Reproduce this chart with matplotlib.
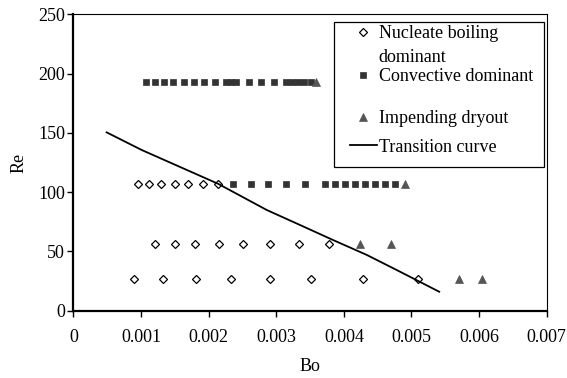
import matplotlib
matplotlib.use("Agg")
import matplotlib.pyplot as plt
from matplotlib.lines import Line2D
from matplotlib.patches import Rectangle

plt.rcParams['font.family'] = ['Liberation Serif', 'DejaVu Serif']
plt.rcParams['font.size'] = 13

# ---- data ----
nuc_bo = [0.00095, 0.00112, 0.00130, 0.00150, 0.00169, 0.00191, 0.00214,
          0.00121, 0.00150, 0.00180, 0.00215, 0.00251, 0.00291, 0.00334, 0.00378,
          0.00090, 0.00132, 0.00181, 0.00233, 0.00290, 0.00352, 0.00428, 0.00510]
nuc_re = [107] * 7 + [56.3] * 8 + [26.5] * 8

conv_bo = [0.00108, 0.00121, 0.00134, 0.00147, 0.00163, 0.00179, 0.00193, 0.00210,
           0.00226, 0.00233, 0.00240, 0.00260, 0.00277, 0.00296, 0.00314, 0.00323,
           0.00332, 0.00341, 0.00351,
           0.00236, 0.00262, 0.00288, 0.00314, 0.00343, 0.00372, 0.00387, 0.00402,
           0.00416, 0.00431, 0.00446, 0.00461, 0.00476]
conv_re = [192.5] * 19 + [107] * 13

dry_bo = [0.00359, 0.00490, 0.00424, 0.00469, 0.00571, 0.00604]
dry_re = [192.5, 107, 56.3, 56.3, 26.5, 26.5]

curve_bo = [0.00049, 0.00101, 0.00214, 0.00286, 0.00335, 0.00384, 0.00434, 0.00483, 0.00541]
curve_re = [150.4, 135.5, 107.0, 84.9, 72.3, 59.6, 47.0, 32.9, 16.0]

x_ticks = [0, 0.001, 0.002, 0.003, 0.004, 0.005, 0.006, 0.007]
x_labels = ['0', '0.001', '0.002', '0.003', '0.004', '0.005', '0.006', '0.007']
y_ticks = [0, 50, 100, 150, 200, 250]

fig = plt.figure(figsize=(5.67, 3.78), dpi=100)
ax = fig.add_axes([0.1296, 0.178, 0.8346, 0.7844])

h_nuc, = ax.plot(nuc_bo, nuc_re, linestyle='none', marker='D', markersize=3.6,
                 markerfacecolor='white', markeredgecolor='black', markeredgewidth=0.9)
h_conv, = ax.plot(conv_bo, conv_re, linestyle='none', marker='s', markersize=4.6,
                  markerfacecolor='#333333', markeredgecolor='#333333', markeredgewidth=0.5)
h_dry, = ax.plot(dry_bo, dry_re, linestyle='none', marker='^', markersize=5.5,
                 markerfacecolor='#555555', markeredgecolor='#555555', markeredgewidth=0.5)
h_curve, = ax.plot(curve_bo, curve_re, color='black', linewidth=1.3)

ax.set_xlim(0, 0.007)
ax.set_ylim(0, 250)
ax.set_xticks(x_ticks)
ax.set_xticklabels(x_labels)
ax.set_yticks(y_ticks)
ax.tick_params(axis='both', direction='out', length=4, width=1, colors='black')
ax.tick_params(axis='x', pad=9)
ax.tick_params(axis='y', pad=2)

for s in ['left', 'bottom']:
    ax.spines[s].set_linewidth(1.6)
for s in ['top', 'right']:
    ax.spines[s].set_linewidth(0.8)

ax.set_xlabel('Bo', labelpad=9)
ax.set_ylabel('Re', labelpad=8)

# legend: one small legend per entry so the rows sit where the reference has them
blank = Line2D([], [], linestyle='none')
leg_kw = dict(frameon=False, borderpad=0, borderaxespad=0, handlelength=1.5,
              handletextpad=0.1, fontsize=13, loc='center left')
leg_x = 0.584
entries = [
    ([h_nuc, blank], ['Nucleate boiling', 'dominant'], 0.895),
    ([h_conv], ['Convective dominant'], 0.789),
    ([h_dry], ['Impending dryout'], 0.648),
    ([h_curve], ['Transition curve'], 0.552),
]
for i, (hs, ls, yy) in enumerate(entries):
    lg = ax.legend(hs, ls, bbox_to_anchor=(leg_x, yy), labelspacing=0.36, **leg_kw)
    if i < len(entries) - 1:
        ax.add_artist(lg)

ax.add_patch(Rectangle((0.5505, 0.4847), 0.9943 - 0.5505, 0.9737 - 0.4847,
                       transform=ax.transAxes, fill=False, edgecolor='black',
                       linewidth=0.9, clip_on=False, zorder=5))

fig.savefig('out.png', dpi=100)
